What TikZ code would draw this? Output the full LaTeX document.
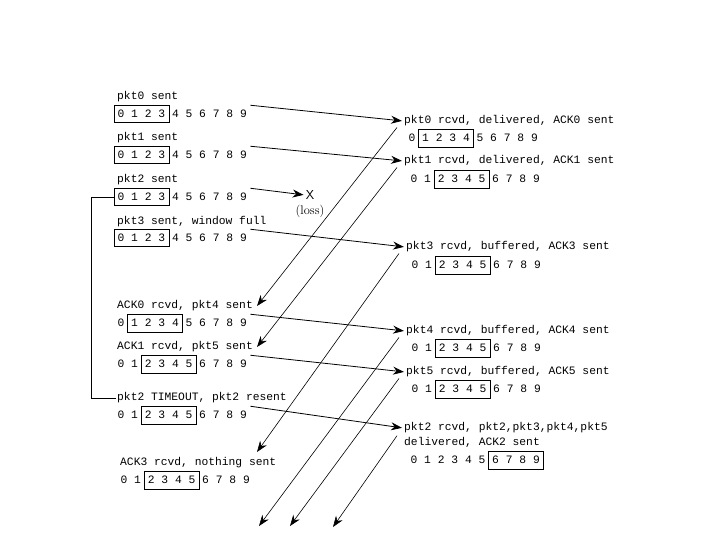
\documentclass[tikz,border=0pt]{standalone}
\usepackage{fontspec}
\setmonofont{Liberation Mono}
\usetikzlibrary{matrix,arrows.meta}
\newcommand{\evfont}{\ttfamily\fontsize{11.3}{13}\selectfont}

\begin{document}
\begin{tikzpicture}[x=1pt, y=-1pt,
    lbl/.style={font=\evfont, anchor=west, inner sep=1pt},
    win/.style={matrix of nodes, anchor=west, inner sep=0pt, column sep=0pt,
        nodes={font=\evfont, minimum width=13.6pt, minimum height=17pt,
        inner sep=0pt}},
    pkt/.style={-{Stealth[length=11pt,width=8pt]}, line width=.8pt,
        shorten >=1pt},
    ack/.style={-{Stealth[length=11pt,width=8pt]}, line width=.6pt}]
    \useasboundingbox (0,0) rectangle (720,540);

    % sender side
    \node[lbl] (L0) at (116,97) {pkt0 sent};
    \matrix (s0) [win] at (114,114) {0 & 1 & 2 & 3 & 4 & 5 & 6 & 7 & 8 & 9 \\};
    \draw (s0-1-1.north west) rectangle (s0-1-4.south east);

    \node[lbl] (L1) at (116,138) {pkt1 sent};
    \matrix (s1) [win] at (114,155) {0 & 1 & 2 & 3 & 4 & 5 & 6 & 7 & 8 & 9 \\};
    \draw (s1-1-1.north west) rectangle (s1-1-4.south east);

    \node[lbl] (L2) at (116,180) {pkt2 sent};
    \matrix (s2) [win] at (114,197) {0 & 1 & 2 & 3 & 4 & 5 & 6 & 7 & 8 & 9 \\};
    \draw (s2-1-1.north west) rectangle (s2-1-4.south east);

    \node[lbl] (L3) at (116,222) {pkt3 sent, window full};
    \matrix (s3) [win] at (114,238) {0 & 1 & 2 & 3 & 4 & 5 & 6 & 7 & 8 & 9 \\};
    \draw (s3-1-1.north west) rectangle (s3-1-4.south east);

    \node[lbl] (L4) at (116,306) {ACK0 rcvd, pkt4 sent};
    \matrix (s4) [win] at (114,323) {0 & 1 & 2 & 3 & 4 & 5 & 6 & 7 & 8 & 9 \\};
    \draw (s4-1-2.north west) rectangle (s4-1-5.south east);

    \node[lbl] (L5) at (116,347) {ACK1 rcvd, pkt5 sent};
    \matrix (s5) [win] at (114,364) {0 & 1 & 2 & 3 & 4 & 5 & 6 & 7 & 8 & 9 \\};
    \draw (s5-1-3.north west) rectangle (s5-1-6.south east);

    \node[lbl] (L6) at (116,398) {pkt2 TIMEOUT, pkt2 resent};
    \matrix (s6) [win] at (114,415) {0 & 1 & 2 & 3 & 4 & 5 & 6 & 7 & 8 & 9 \\};
    \draw (s6-1-3.north west) rectangle (s6-1-6.south east);

    \node[lbl] (L7) at (119,463) {ACK3 rcvd, nothing sent};
    \matrix (s7) [win] at (117,480) {0 & 1 & 2 & 3 & 4 & 5 & 6 & 7 & 8 & 9 \\};
    \draw (s7-1-3.north west) rectangle (s7-1-6.south east);

    % timer for pkt2
    \draw[line width=.8pt] (s2.west) -- ++(-23,0) |- (L6.west);

    % receiver side
    \node[lbl] (R0) at (403,121) {pkt0 rcvd, delivered, ACK0 sent};
    \matrix (r0) [win] at (405,138) {0 & 1 & 2 & 3 & 4 & 5 & 6 & 7 & 8 & 9 \\};
    \draw (r0-1-2.north west) rectangle (r0-1-5.south east);

    \node[lbl] (R1) at (403,161) {pkt1 rcvd, delivered, ACK1 sent};
    \matrix (r1) [win] at (407,179) {0 & 1 & 2 & 3 & 4 & 5 & 6 & 7 & 8 & 9 \\};
    \draw (r1-1-3.north west) rectangle (r1-1-6.south east);

    \node[lbl] (R3) at (405,247) {pkt3 rcvd, buffered, ACK3 sent};
    \matrix (r3) [win] at (408,265) {0 & 1 & 2 & 3 & 4 & 5 & 6 & 7 & 8 & 9 \\};
    \draw (r3-1-3.north west) rectangle (r3-1-6.south east);

    \node[lbl] (R4) at (405,331) {pkt4 rcvd, buffered, ACK4 sent};
    \matrix (r4) [win] at (408,348) {0 & 1 & 2 & 3 & 4 & 5 & 6 & 7 & 8 & 9 \\};
    \draw (r4-1-3.north west) rectangle (r4-1-6.south east);

    \node[lbl] (R5) at (405,372) {pkt5 rcvd, buffered, ACK5 sent};
    \matrix (r5) [win] at (408,389) {0 & 1 & 2 & 3 & 4 & 5 & 6 & 7 & 8 & 9 \\};
    \draw (r5-1-3.north west) rectangle (r5-1-6.south east);

    \node[lbl] (R2) at (403,428) {pkt2 rcvd, pkt2,pkt3,pkt4,pkt5};
    \node[lbl] (R2b) at (403,442) {delivered, ACK2 sent};
    \matrix (r2) [win] at (407,460) {0 & 1 & 2 & 3 & 4 & 5 & 6 & 7 & 8 & 9 \\};
    \draw (r2-1-7.north west) rectangle (r2-1-10.south east);

    % lost packet
    \node[font=\sffamily\fontsize{13}{13}\selectfont, inner sep=1pt] (X) at (310,195) {X};
    \node[font=\fontsize{12.5}{13}\selectfont, inner sep=1pt] (loss) at (310,211) {(loss)};

    % packets
    \draw[pkt] (s0.north east) -- (R0.west);
    \draw[pkt] (s1.north east) -- (R1.west);
    \draw[pkt] (s2.north east) -- (X.west);
    \draw[pkt] (s3.north east) -- (R3.west);
    \draw[pkt] (s4.north east) -- (R4.west);
    \draw[pkt] (s5.north east) -- (R5.west);
    \draw[pkt] (s6.north east) -- (R2.west);

    % acks
    \coordinate (a3) at (257,452);
    \coordinate (a4) at (259,526);
    \coordinate (a5) at (290,526);
    \coordinate (a2) at (333,527);
    \draw[ack] ([xshift=-6pt]R0.south west) -- ([xshift=3pt]L4.east);
    \draw[ack] ([xshift=-6pt]R1.south west) -- ([xshift=3pt]L5.east);
    \draw[ack] ([xshift=-6pt]R3.south west) -- (a3);
    \draw[ack] ([xshift=-6pt]R4.south west) -- (a4);
    \draw[ack] ([xshift=-6pt]R5.south west) -- (a5);
    \draw[ack] ([xshift=-6pt]R2b.north west) -- (a2);
\end{tikzpicture}
\end{document}
